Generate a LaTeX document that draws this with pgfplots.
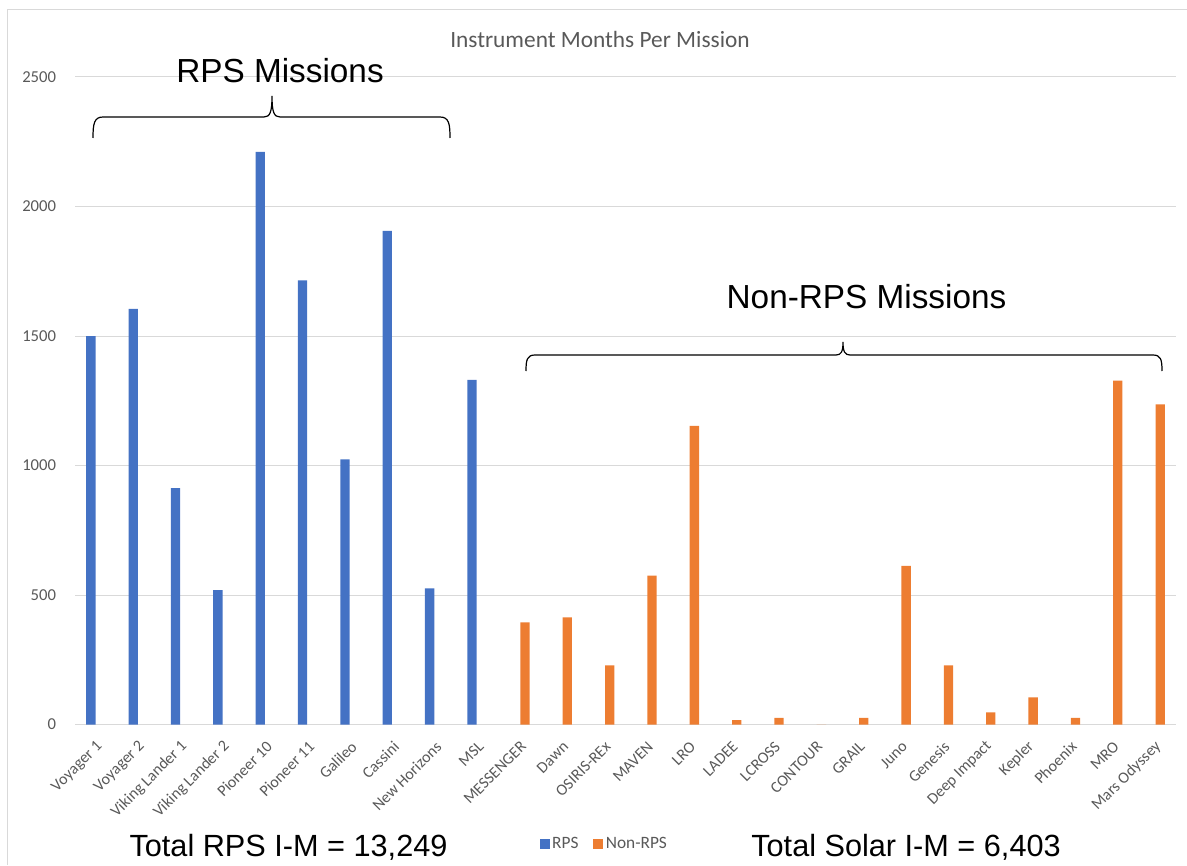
\documentclass[border=0pt]{standalone}
\usepackage{pgfplots}
\pgfplotsset{compat=1.18}
\usepackage{fontspec}
\setmainfont{Carlito}
\newfontfamily\arial{Liberation Sans}
\definecolor{rpsblue}{HTML}{4472C4}
\definecolor{nonorange}{HTML}{ED7D31}
\definecolor{txtgray}{HTML}{595959}
\definecolor{gridgray}{HTML}{D9D9D9}
\begin{document}
\begin{tikzpicture}
\path[use as bounding box] (0,0) rectangle (890.25pt,648.75pt);
\draw[gridgray, line width=0.75pt] (5.25pt,0pt) -- (5.25pt,641.25pt) -- (890.25pt,641.25pt);
\begin{axis}[
  at={(56.25pt,105.375pt)}, anchor=south west,
  scale only axis, width=825.75pt, height=485.625pt,
  xmin=-0.5, xmax=25.5, ymin=0, ymax=2500,
  ybar=1pt, bar width=7pt,
  axis line style={draw=none},
  major tick length=0pt,
  ymajorgrids, grid style={gridgray, line width=0.75pt},
  ytick={0,500,1000,1500,2000,2500},
  yticklabel style={font=\fontsize{12.5}{14}\selectfont, text=txtgray, anchor=east, inner sep=0pt, xshift=-14pt},
  scaled y ticks=false,
  /pgf/number format/assume math mode=true,
  yticklabel={\pgfmathprintnumber[fixed,1000 sep={}]{\tick}},
  xtick={0,...,25},
  xticklabels={Voyager 1,Voyager 2,Viking Lander 1,Viking Lander 2,Pioneer 10,Pioneer 11,Galileo,Cassini,New Horizons,MSL,MESSENGER,Dawn,OSIRIS-REx,MAVEN,LRO,LADEE,LCROSS,CONTOUR,GRAIL,Juno,Genesis,Deep Impact,Kepler,Phoenix,MRO,Mars Odyssey},
  xticklabel style={font=\fontsize{12}{14}\selectfont, text=txtgray, inner sep=0pt, xshift=2.9pt, yshift=-14.6pt, rotate=45, anchor=east},
  legend columns=2,
  legend style={draw=none, fill=none, at={(0.481,-0.1846)}, anchor=center,
    font=\fontsize{13}{15}\selectfont, text=txtgray,
    /tikz/every even column/.append style={column sep=9pt}},
  legend image code/.code={\fill[#1] (0pt,-3.75pt) rectangle (7.5pt,3.75pt);},
]
\addplot[fill=rpsblue, draw=none] coordinates {
(0,1500) (1,1605) (2,913) (3,519) (4,2211) (5,1715) (6,1024) (7,1906) (8,526) (9,1331)};
\addplot[fill=nonorange, draw=none] coordinates {
(10,394) (11,414) (12,228) (13,575) (14,1153) (15,17) (16,26) (17,0) (18,26) (19,612) (20,228) (21,47) (22,105) (23,26) (24,1328) (25,1236)};
\legend{RPS,Non-RPS}
\end{axis}
\begin{scope}[x=0.75pt, y=-0.75pt, shift={(0pt,648.75pt)}]
\node[anchor=base, text=txtgray, font=\fontsize{17.5}{20}\selectfont, inner sep=0pt] at (600,47.3) {Instrument Months Per Mission};
\node[anchor=base, font=\arial\fontsize{25}{28}\selectfont, inner sep=0pt] at (280,83) {RPS Missions};
\node[anchor=base, font=\arial\fontsize{25}{28}\selectfont, inner sep=0pt] at (866.5,308.3) {Non-RPS Missions};
\node[anchor=base, font=\arial\fontsize{23}{26}\selectfont, inner sep=0pt] at (288.5,856) {Total RPS I-M = 13,249};
\node[anchor=base, font=\arial\fontsize{23}{26}\selectfont, inner sep=0pt] at (906,856) {Total Solar I-M = 6,403};
\draw[black, line width=0.9pt] (93,138) .. controls (93,124) and (94,117) .. (103,117) -- (264,117) .. controls (270,117) and (272,112) .. (272,96) .. controls (272,112) and (274,117) .. (280,117) -- (440,117) .. controls (449,117) and (450,124) .. (450,138);
\draw[black, line width=0.9pt] (526,371) .. controls (526,360) and (527,355) .. (535,355) -- (836,355) .. controls (841,355) and (843,352) .. (843,342) .. controls (843,352) and (845,355) .. (850,355) -- (1153,355) .. controls (1161,355) and (1162,360) .. (1162,371);
\end{scope}
\end{tikzpicture}
\end{document}
